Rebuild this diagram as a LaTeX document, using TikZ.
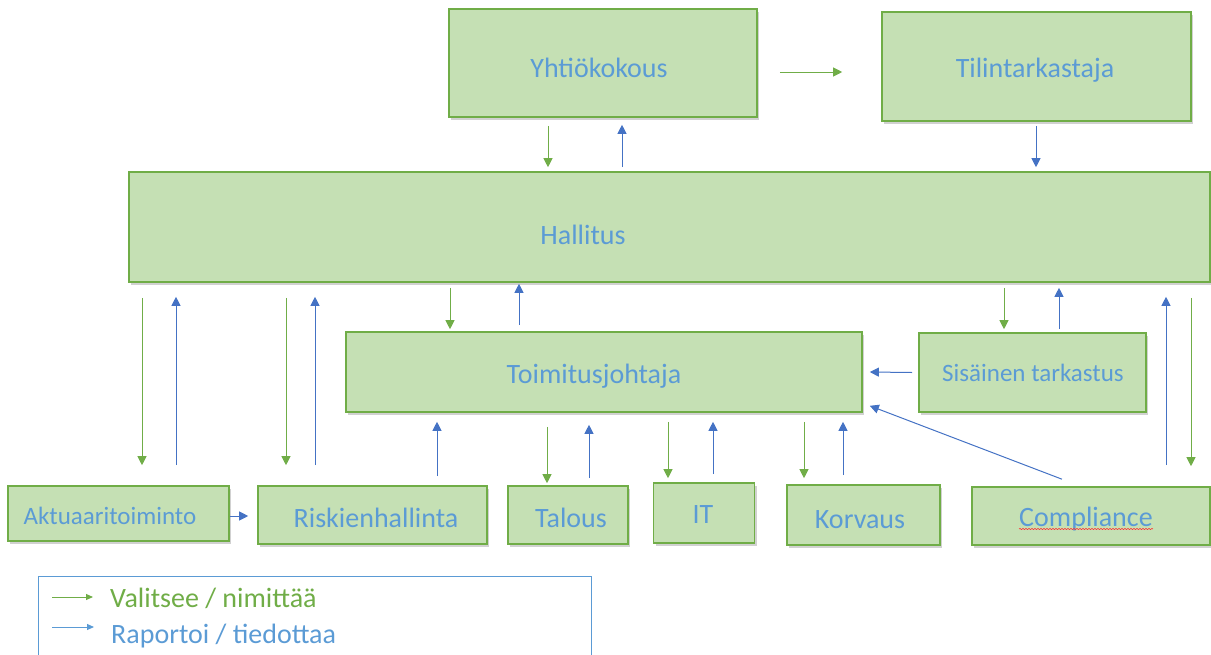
\documentclass[tikz,border=0pt]{standalone}
\usepackage{fontspec}
\setmainfont{Carlito}
\usetikzlibrary{arrows.meta,shadows,decorations.pathmorphing}
\definecolor{boxfill}{HTML}{C5E0B4}
\definecolor{boxline}{HTML}{70AD47}
\definecolor{txtblue}{HTML}{5B9BD5}
\definecolor{arrblue}{HTML}{4472C4}
\definecolor{arrgreen}{HTML}{70AD47}
\tikzset{
  box/.style={draw=boxline, line width=1.6pt, fill=boxfill, inner sep=0pt,
    drop shadow={shadow xshift=2pt, shadow yshift=-2.5pt, fill=black, opacity=0.18}},
  lbl/.style={text=txtblue, inner sep=0pt, anchor=base},
  big/.style={font=\fontsize{28}{30}\selectfont},
  small/.style={font=\fontsize{25}{27}\selectfont},
  ga/.style={draw=arrgreen, line width=1pt, -{Triangle[length=9pt,width=9pt]}},
  ba/.style={draw=arrblue, line width=1pt, -{Triangle[length=9pt,width=9pt]}},
  lga/.style={draw=arrgreen, line width=1pt, -{Triangle[length=7pt,width=6pt]}},
  lba/.style={draw=txtblue, line width=1pt, -{Triangle[length=7pt,width=6pt]}},
  legtext/.style={inner sep=0pt, anchor=base west, font=\fontsize{28}{30}\selectfont},
}
\begin{document}
\begin{tikzpicture}[x=1pt,y=-1pt]
\useasboundingbox (0,0) rectangle (1211,654);
% boxes
\node[box, minimum width=308pt, minimum height=108pt] (yk) at (603,63) {};
\node[box, minimum width=309pt, minimum height=109pt] (tt) at (1036.5,66.5) {};
\node[box, minimum width=1081pt, minimum height=110pt] (hal) at (669.5,227) {};
\node[box, minimum width=516pt, minimum height=80pt] (tj) at (604,372) {};
\node[box, minimum width=227pt, minimum height=79pt] (st) at (1032.5,372.5) {};
\node[box, minimum width=221pt, minimum height=55pt] (ak) at (118.5,513.5) {};
\node[box, minimum width=229pt, minimum height=58pt] (rh) at (372.5,515) {};
\node[box, minimum width=120pt, minimum height=58pt] (ta) at (568,515) {};
\node[box, minimum width=101pt, minimum height=60pt] (it) at (704,513) {};
\node[box, minimum width=153pt, minimum height=60pt] (ko) at (863.5,515) {};
\node[box, minimum width=238pt, minimum height=58pt] (co) at (1091,516) {};
% labels
\node[lbl,big] (tyk) at (599,77) {Yhtiökokous};
\node[lbl,big] (ttt) at (1035,77) {Tilintarkastaja};
\node[lbl,big] (thal) at (583,244) {Hallitus};
\node[lbl,big] (ttj) at (594,383) {Toimitusjohtaja};
\node[lbl,small] (tst) at (1033,381) {Sisäinen tarkastus};
\node[lbl,small] (tak) at (110,524) {Aktuaaritoiminto};
\node[lbl,big] (trh) at (376,527) {Riskienhallinta};
\node[lbl,big] (tta) at (571,527) {Talous};
\node[lbl,big] (tit) at (703,523) {IT};
\node[lbl,big] (tko) at (860,528) {Korvaus};
\node[lbl,big] (tco) at (1086,526) {Compliance};
\draw[red!80, line width=0.6pt, decorate, decoration={snake, amplitude=0.6pt, segment length=3pt}]
  ([yshift=-3pt]tco.base west) -- ([yshift=-3pt]tco.base east);
% arrows
\draw[ga] ([xshift=22pt,yshift=-9pt]yk.east) -- ([xshift=-39pt,yshift=-5.5pt]tt.west);
\draw[ga] ([xshift=-55pt,yshift=-8pt]yk.south) -- ([xshift=-121.5pt,yshift=4pt]hal.north);
\draw[ba] ([xshift=-47.5pt,yshift=4pt]hal.north) -- ([xshift=19pt,yshift=-7pt]yk.south);
\draw[ba] ([xshift=-0.5pt,yshift=-4pt]tt.south) -- ([xshift=366.5pt,yshift=4pt]hal.north);
\draw[ga] ([xshift=-527.5pt,yshift=-15pt]hal.south) -- ([xshift=23.5pt,yshift=20pt]ak.north);
\draw[ba] ([xshift=57.5pt,yshift=20pt]ak.north) -- ([xshift=-493.5pt,yshift=-14pt]hal.south);
\draw[ga] ([xshift=-383.5pt,yshift=-15pt]hal.south) -- ([xshift=-86.5pt,yshift=20pt]rh.north);
\draw[ba] ([xshift=-57.5pt,yshift=20pt]rh.north) -- ([xshift=-354.5pt,yshift=-14pt]hal.south);
\draw[ga] ([xshift=-219.5pt,yshift=-5pt]hal.south) -- ([xshift=-154pt,yshift=2pt]tj.north);
\draw[ba] ([xshift=-85pt,yshift=6pt]tj.north) -- ([xshift=-150.5pt,yshift=-1pt]hal.south);
\draw[ba] ([xshift=64.5pt,yshift=9pt]rh.north) -- ([xshift=-167pt,yshift=-9pt]tj.south);
\draw[ga] ([xshift=-57pt,yshift=-14pt]tj.south) -- ([xshift=-21pt,yshift=2pt]ta.north);
\draw[ba] ([xshift=21pt,yshift=7pt]ta.north) -- ([xshift=-15pt,yshift=-12pt]tj.south);
\draw[ga] ([xshift=64pt,yshift=-9pt]tj.south) -- ([xshift=-36pt,yshift=4pt]it.north);
\draw[ba] ([xshift=9pt,yshift=8pt]it.north) -- ([xshift=109pt,yshift=-9pt]tj.south);
\draw[ga] ([xshift=200pt,yshift=-9pt]tj.south) -- ([xshift=-59.5pt,yshift=6pt]ko.north);
\draw[ba] ([xshift=-20.5pt,yshift=9pt]ko.north) -- ([xshift=239pt,yshift=-9pt]tj.south);
\draw[ba] ([xshift=-29pt,yshift=7pt]co.north) -- ([xshift=7pt,yshift=7pt]tj.south east);
\draw[ba] ([xshift=-6pt,yshift=0pt]st.west) -- ([xshift=7pt,yshift=0pt]tj.east);
\draw[ga] ([xshift=334.5pt,yshift=-5pt]hal.south) -- ([xshift=-28.5pt,yshift=3pt]st.north);
\draw[ba] ([xshift=26.5pt,yshift=3pt]st.north) -- ([xshift=389.5pt,yshift=-5pt]hal.south);
\draw[ba] ([xshift=75pt,yshift=21pt]co.north) -- ([xshift=496.5pt,yshift=-14pt]hal.south);
\draw[ga] ([xshift=521.5pt,yshift=-15pt]hal.south) -- ([xshift=100pt,yshift=20pt]co.north);
\draw[ba] ([yshift=-2.5pt]ak.east) -- ([xshift=-9pt,yshift=-1pt]rh.west);
% legend
\draw[txtblue, line width=1pt] (38,656) -- (38,576) -- (591,576) -- (591,656);
\coordinate (lg1) at (52,597);
\coordinate (lg2) at (93,597);
\coordinate (lb1) at (52,627);
\coordinate (lb2) at (94,627);
\draw[lga] (lg1) -- (lg2);
\draw[lba] (lb1) -- (lb2);
\node[legtext, text=arrgreen] (lv) at (110,607) {Valitsee / nimittää};
\node[legtext, text=txtblue] (lr) at (111,643) {Raportoi / tiedottaa};
\end{tikzpicture}
\end{document}
